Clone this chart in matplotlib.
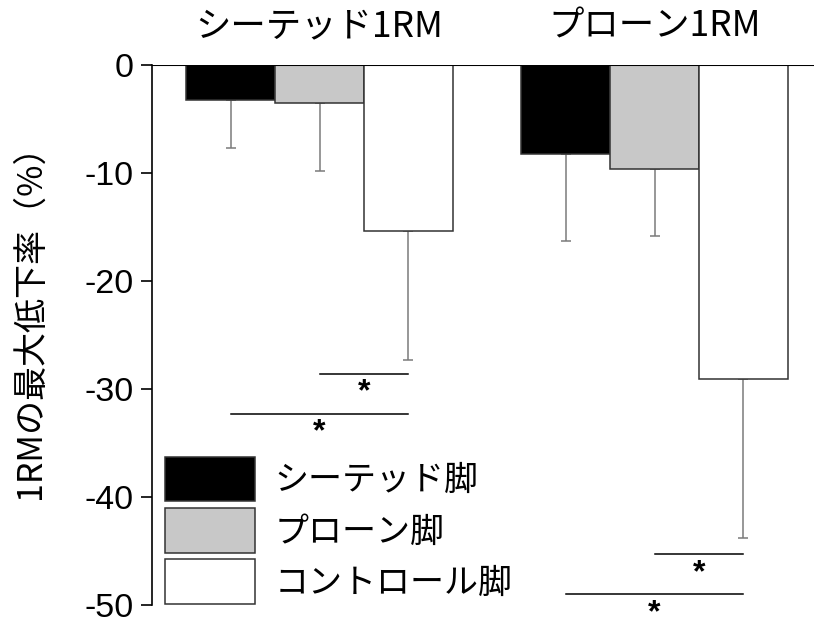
import matplotlib
matplotlib.use('Agg')
import matplotlib.pyplot as plt
from matplotlib.patches import Patch
import numpy as np

plt.rcParams['font.family'] = ['Liberation Sans', 'Noto Sans CJK JP']
plt.rcParams['axes.unicode_minus'] = False
jp = ['Noto Sans CJK JP', 'DejaVu Sans']

groups = ['シーテッド1RM', 'プローン1RM']
legs = ['シーテッド脚', 'プローン脚', 'コントロール脚']
colors = ['#000000', '#c8c8c8', '#ffffff']
means = [[-3.2, -8.2],
         [-3.5, -9.6],
         [-15.4, -29.1]]
errs = [[4.5, 8.1],
        [6.3, 6.2],
        [11.9, 14.7]]
# significance brackets: (group, bar a, bar b, line level)
sig = [(0, 1, 2, -28.6), (0, 0, 2, -32.3),
       (1, 1, 2, -45.3), (1, 0, 2, -49.0)]

fig = plt.figure(figsize=(8.14, 6.26), dpi=100)
ax = fig.add_axes([152/814, 21/626, 662/814, 540/626])

w = 0.265
x = np.arange(len(groups))
for i in range(3):
    pos = x + (i - 1) * w
    ax.bar(pos, means[i], w, color=colors[i], edgecolor='#333333', linewidth=1.1, zorder=2)
    ax.errorbar(pos, means[i], yerr=[errs[i], [0, 0]], fmt='none',
                ecolor='#7a7a7a', elinewidth=1.1, capsize=3.6, capthick=1.1, zorder=1)

for g, a, b, lvl in sig:
    xa = x[g] + (a - 1) * w
    xb = x[g] + (b - 1) * w
    ax.plot([xa, xb], [lvl, lvl], color='black', lw=1.1, clip_on=False)
    ax.text((xa + xb) / 2, lvl - 0.35, '*', ha='center', va='top', fontsize=23,
            fontweight='bold', clip_on=False)

for g in range(len(groups)):
    ax.text(x[g], 3.6, groups[g], ha='center', va='center', fontsize=25.5, family=jp)

ax.axhline(0, color='black', lw=1.5, zorder=3)
ax.set_ylim(-50, 0)
ax.set_xlim(-0.5, 1.476)
ax.set_yticks([0, -10, -20, -30, -40, -50])
ax.tick_params(axis='y', labelsize=24.5, length=8, width=1.2, pad=5)
ax.set_xticks([])
for s in ['top', 'right', 'bottom']:
    ax.spines[s].set_visible(False)
ax.spines['left'].set_linewidth(1.2)

fig.text(30/814, 1 - 313/626, '1RMの最大低下率（%）', rotation=90, ha='center', va='center',
         fontsize=24.5, family=jp)

handles = [Patch(facecolor=c, edgecolor='#333333', linewidth=1.1) for c in colors]
ax.legend(handles, legs, loc='upper left', bbox_to_anchor=(165/814, 1 - 457/626),
          bbox_transform=fig.transFigure, frameon=False, borderpad=0, borderaxespad=0,
          handlelength=2.65, handleheight=1.63, labelspacing=0.2, handletextpad=0.56,
          prop={'family': jp, 'size': 24.5})

fig.savefig('out.png', dpi=100)
